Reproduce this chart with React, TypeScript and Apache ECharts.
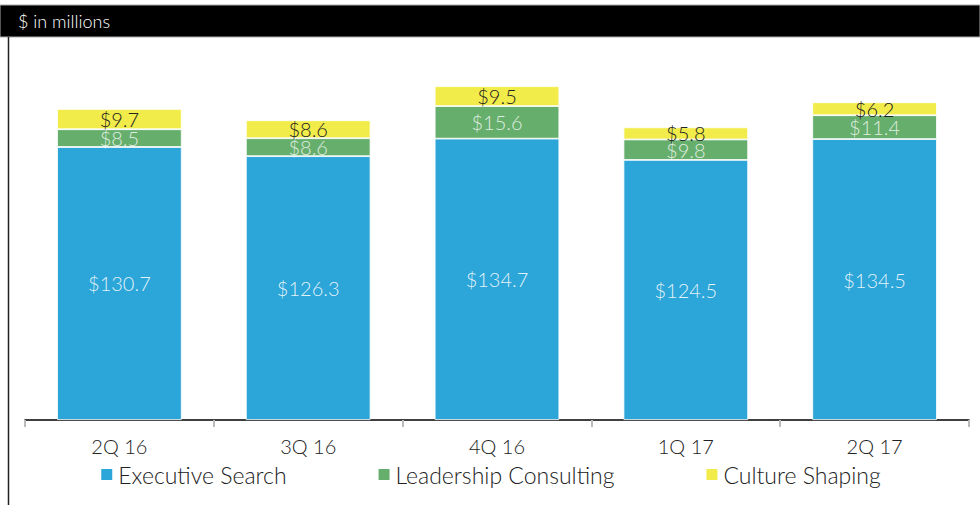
import React, { useEffect, useRef } from "react";
import * as echarts from "echarts";

const categories = ["2Q 16", "3Q 16", "4Q 16", "1Q 17", "2Q 17"];
const executiveSearch = [130.7, 126.3, 134.7, 124.5, 134.5];
const leadershipConsulting = [8.5, 8.6, 15.6, 9.8, 11.4];
const cultureShaping = [9.7, 8.6, 9.5, 5.8, 6.2];
const seriesNames = ["Executive Search", "Leadership Consulting", "Culture Shaping"];
const headerText = "$ in millions";

const FONT = "Lato";

export default function App() {
  const ref = useRef<HTMLDivElement>(null);
  useEffect(() => {
    if (!ref.current) return;
    const chart = echarts.init(ref.current, null, { renderer: "svg" });
    const fmt = (p: any) => "$" + Number(p.value).toFixed(1);
    const label = (color: string) => ({
      show: true,
      position: "inside" as const,
      formatter: fmt,
      color,
      fontSize: 20,
      fontFamily: FONT,
      fontWeight: 300 as any,
    });
    chart.setOption({
      animation: false,
      backgroundColor: "#ffffff",
      grid: { left: 25, right: 11, top: 44, bottom: 85, containLabel: false },
      xAxis: {
        type: "category",
        data: categories,
        axisLine: { show: true, lineStyle: { color: "#000", width: 1.5 } },
        axisTick: { show: true, length: 7, lineStyle: { color: "#bbb", width: 2 } },
        axisLabel: { color: "#222", fontSize: 20, fontFamily: FONT, fontWeight: 300, margin: 16 },
      },
      yAxis: { type: "value", min: 0, max: 180, show: false, splitLine: { show: false } },
      legend: {
        data: seriesNames,
        bottom: 14,
        left: "center",
        itemGap: 90,
        itemWidth: 13,
        itemHeight: 13,
        icon: "rect",
        textStyle: { color: "#222", fontSize: 23, fontFamily: FONT, fontWeight: 300 },
      },
      graphic: [
        { type: "rect", shape: { x: 0, y: 5, width: 980, height: 32 }, style: { fill: "#000", stroke: "#aaa", lineWidth: 1 } },
        { type: "text", x: 18, y: 12, style: { text: headerText, fill: "#fff", fontSize: 18, fontFamily: FONT, fontWeight: 300 } },
        { type: "line", shape: { x1: 8.5, y1: 37, x2: 8.5, y2: 505 }, style: { stroke: "#222", lineWidth: 1.5 } },
      ],
      series: [
        {
          name: seriesNames[0], type: "bar", stack: "total", barWidth: "66%", data: executiveSearch,
          itemStyle: { color: "#2CA5D8", borderColor: "#fff", borderWidth: 0.8 },
          label: label("rgba(255,255,255,0.88)"),
        },
        {
          name: seriesNames[1], type: "bar", stack: "total", data: leadershipConsulting,
          itemStyle: { color: "#66AE6C", borderColor: "#fff", borderWidth: 0.8 },
          label: label("rgba(255,255,255,0.8)"),
        },
        {
          name: seriesNames[2], type: "bar", stack: "total", data: cultureShaping,
          itemStyle: { color: "#F2EC4A", borderColor: "#fff", borderWidth: 0.8 },
          label: label("#222"),
        },
      ],
    });
    return () => chart.dispose();
  }, []);
  return <div ref={ref} style={{ position: "fixed", left: 0, top: 0, width: 980, height: 505 }} />;
}
